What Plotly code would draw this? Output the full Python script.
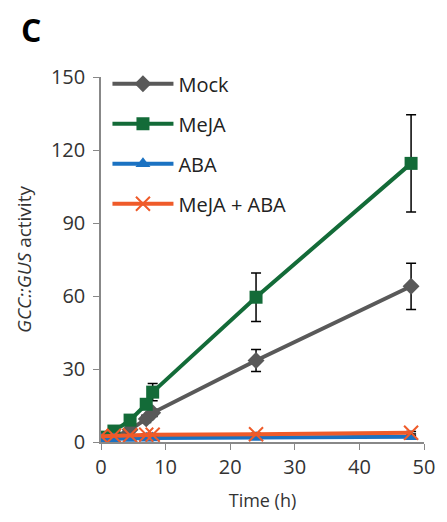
import plotly.graph_objects as go

time_h = [0, 2, 4.5, 7, 8, 24, 48]
mock = [1.0, 2.0, 5.0, 9.5, 12.0, 33.5, 64.0]
mock_err = [0.3, 0.5, 1.0, 1.5, 1.5, 4.5, 9.5]
meja = [2.0, 4.5, 9.0, 15.5, 20.5, 59.5, 114.5]
meja_err = [0.5, 1.0, 1.5, 2.0, 3.5, 10.0, 20.0]
aba = [1.2, 1.3, 1.4, 1.5, 1.6, 1.8, 2.2]
aba_err = [0.2, 0.2, 0.2, 0.2, 0.2, 0.3, 0.4]
meja_aba = [2.4, 2.6, 2.8, 3.0, 3.0, 3.2, 3.8]
meja_aba_err = [0.3, 0.3, 0.3, 0.3, 0.3, 0.4, 0.5]
series_names = ["Mock", "MeJA", "ABA", "MeJA + ABA"]
sig_letters = ["b", "c", "a"]

x_ticks = [0, 10, 20, 30, 40, 50]
y_ticks = [0, 30, 60, 90, 120, 150]

FONT = "'Open Sans', sans-serif"
colors = ["#595959", "#136B38", "#1B72C2", "#EF5B2A"]
symbols = ["diamond", "square", "triangle-up", "x-thin"]
values = [mock, meja, aba, meja_aba]
errs = [mock_err, meja_err, aba_err, meja_aba_err]

fig = go.Figure()
for i, (name, vals, er) in enumerate(zip(series_names, values, errs)):
    marker = dict(symbol=symbols[i], size=13, color=colors[i])
    if symbols[i] == "x-thin":
        marker = dict(symbol="x-thin", size=14, color=colors[i],
                      line=dict(width=2, color=colors[i]))
    fig.add_trace(go.Scatter(
        x=time_h, y=vals, name=name, mode="lines+markers",
        line=dict(color=colors[i], width=4),
        marker=marker,
        error_y=dict(type="data", array=er, visible=True,
                     color="black", thickness=1.5, width=5),
        legendgroup=name,
    ))

# significance letters next to 48 h values
fig.add_annotation(x=52.3, y=mock[-1], text=sig_letters[0], showarrow=False,
                   xref="x", yref="y", font=dict(size=16, color="#333"))
fig.add_annotation(x=52.3, y=meja[-1], text=sig_letters[1], showarrow=False,
                   xref="x", yref="y", font=dict(size=16, color="#333"))
fig.add_annotation(x=52.3, y=meja_aba[-1] + 0.5, text=sig_letters[2], showarrow=False,
                   xref="x", yref="y", font=dict(size=16, color="#333"))

fig.add_annotation(x=-0.255, y=1.13, xref="paper", yref="paper", text="<b>C</b>",
                   showarrow=False, font=dict(size=32, color="black"),
                   xanchor="left", yanchor="middle")

fig.update_layout(
    width=447, height=522,
    margin=dict(l=101, r=23, t=77, b=80),
    paper_bgcolor="white", plot_bgcolor="white",
    font=dict(family=FONT, color="#333333"),
    showlegend=True,
    legend=dict(x=0.02, y=1.035, xanchor="left", yanchor="top",
                font=dict(size=20, color="#222"), tracegroupgap=11,
                itemwidth=61,
                bgcolor="rgba(0,0,0,0)"),
    xaxis=dict(range=[0, 50], tickvals=x_ticks, ticks="outside", ticklen=6,
               tickcolor="#888", showline=True, linecolor="#888", linewidth=1.5,
               showgrid=False, zeroline=False, tickfont=dict(size=20),
               title=dict(text="Time (h)", font=dict(size=18), standoff=16)),
    yaxis=dict(range=[0, 150], tickvals=y_ticks, ticks="outside", ticklen=6,
               tickcolor="#888", showline=True, linecolor="#888", linewidth=1.5,
               showgrid=False, zeroline=False, tickfont=dict(size=20),
               ticklabelstandoff=4,
               title=dict(text="<i>GCC::GUS</i> activity", font=dict(size=19),
                          standoff=14)),
)

fig.write_html("out.html")
